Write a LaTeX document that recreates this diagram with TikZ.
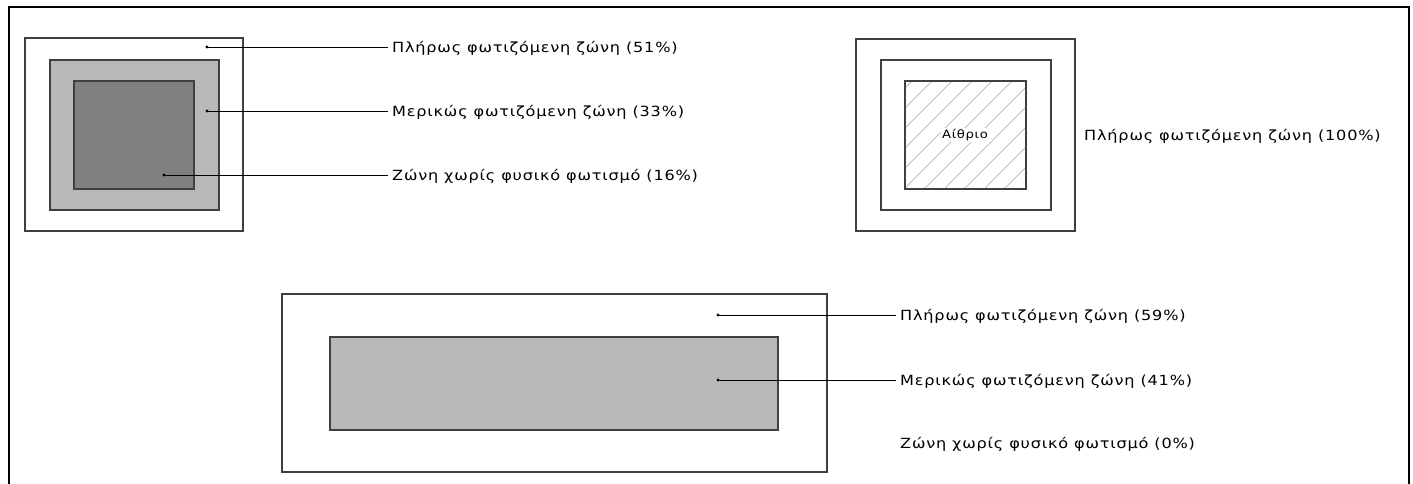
\documentclass[tikz,border=0pt]{standalone}
\usepackage{graphicx}
\usepackage{fontspec}
\setmainfont{DejaVu Sans}
\definecolor{zonelight}{HTML}{B8B8B8}
\definecolor{zonedark}{HTML}{808080}
\definecolor{edgegray}{HTML}{404040}
\definecolor{hatchgray}{HTML}{B4B4B4}
\newfontfamily\labelfont[LetterSpace=5]{DejaVu Sans}
% labels are set slightly wide
\newcommand\widelabel[1]{\scalebox{1.15}[1]{#1}}
\tikzset{
  zonebox/.style={draw=edgegray, line width=1.3pt},
  leader/.style={draw=black, line width=0.8pt},
  pin/.style={circle, fill=black, inner sep=0pt, minimum size=3.2pt},
  zonelabel/.style={anchor=base west, inner sep=4pt, font=\labelfont\fontsize{14}{15}\selectfont, text=black},
}
\begin{document}
\begin{tikzpicture}[x=1pt, y=-1pt]
\useasboundingbox (0,0) rectangle (1413,484);
% page frame, open at the bottom
\draw[line width=1.4pt] (9,500) -- (9,7) -- (1409,7) -- (1409,500);

% --- square plan with three zones ---
\draw[zonebox, fill=white] (25,38) rectangle (243,231);
\draw[zonebox, fill=zonelight] (50,60) rectangle (219,210);
\draw[zonebox, fill=zonedark] (74,81) rectangle (194,189);
\node[pin] (a1) at (207,47) {};
\node[pin] (a2) at (207,111) {};
\node[pin] (a3) at (164,175) {};
\node[zonelabel] (la1) at (388,52.5) {\widelabel{Πλήρως φωτιζόμενη ζώνη (51\%)}};
\node[zonelabel] (la2) at (388,116.5) {\widelabel{Μερικώς φωτιζόμενη ζώνη (33\%)}};
\node[zonelabel] (la3) at (388,180.5) {\widelabel{Ζώνη χωρίς φυσικό φωτισμό (16\%)}};
\draw[leader] (a1.center) -- (a1.center -| la1.west);
\draw[leader] (a2.center) -- (a2.center -| la2.west);
\draw[leader] (a3.center) -- (a3.center -| la3.west);

% --- square plan with atrium ---
\draw[zonebox] (856,39) rectangle (1075,231);
\draw[zonebox] (881,60) rectangle (1051,210);
\begin{scope}
  \clip (905,81) rectangle (1026,189);
  \foreach \k in {0,...,14} {
    \draw[hatchgray, line width=0.7pt] (793+20*\k,200) -- ++(130,-130);
  }
\end{scope}
\draw[zonebox] (905,81) rectangle (1026,189);
\node[fill=white, inner sep=1.5pt, font=\labelfont\fontsize{11.5}{13}\selectfont, text=black] (atr) at (965,135) {\widelabel{Αίθριο}};
\node[zonelabel] (lb1) at (1080,140.5) {\widelabel{Πλήρως φωτιζόμενη ζώνη (100\%)}};

% --- elongated plan ---
\draw[zonebox] (282,294) rectangle (827,472);
\draw[zonebox, fill=zonelight] (330,337) rectangle (778,430);
\node[pin] (c1) at (718,315) {};
\node[pin] (c2) at (718,380) {};
\node[zonelabel] (lc1) at (896,320.5) {\widelabel{Πλήρως φωτιζόμενη ζώνη (59\%)}};
\node[zonelabel] (lc2) at (896,385.5) {\widelabel{Μερικώς φωτιζόμενη ζώνη (41\%)}};
\node[zonelabel] (lc3) at (896,448.5) {\widelabel{Ζώνη χωρίς φυσικό φωτισμό (0\%)}};
\draw[leader] (c1.center) -- (c1.center -| lc1.west);
\draw[leader] (c2.center) -- (c2.center -| lc2.west);
\end{tikzpicture}
\end{document}
